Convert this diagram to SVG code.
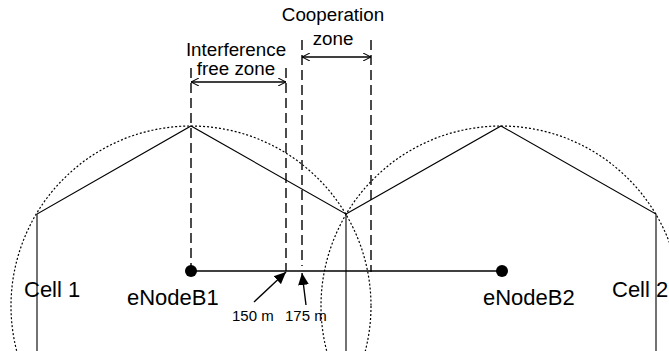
<svg xmlns="http://www.w3.org/2000/svg" width="669" height="351" viewBox="0 0 669 351">
  <style>
    .lbl { font-family: "Liberation Sans", Arial, sans-serif; fill: #000; }
    .big { font-size: 22px; }
    .mid { font-size: 18.8px; }
    .small { font-size: 15px; }
    .hex { fill: none; stroke: #000; stroke-width: 1.1; }
    .range { fill: none; stroke: #000; stroke-width: 1.2; stroke-dasharray: 2 2; }
    .dash { fill: none; stroke: #000; stroke-width: 1.4; stroke-dasharray: 10 5; }
    .link { fill: none; stroke: #000; stroke-width: 1.4; }
    .dim { fill: none; stroke: #000; stroke-width: 1.3; }
    .ptr { fill: none; stroke: #000; stroke-width: 1.4; }
  </style>
  <defs>
    <marker id="open" viewBox="0 0 10 10" refX="10" refY="5" markerWidth="8" markerHeight="8" markerUnits="userSpaceOnUse" orient="auto-start-reverse">
      <path d="M0,0 L10,5 L0,10" fill="none" stroke="#000" stroke-width="1.3"/>
    </marker>
    <marker id="solid" viewBox="0 0 10 10" refX="10" refY="5" markerWidth="12" markerHeight="12" markerUnits="userSpaceOnUse" orient="auto">
      <path d="M0,0.5 L10,5 L0,9.5 Z" fill="#000"/>
    </marker>
  </defs>

  <!-- coverage circles -->
  <g id="coverage">
    <circle class="range" cx="191" cy="306" r="180"/>
    <circle class="range" cx="501" cy="306" r="180"/>
  </g>

  <!-- cell 1 -->
  <g id="cell1">
    <polyline class="hex" points="37,351 37,214 191,126 346,214 346,351"/>
    <text class="lbl big" x="24" y="297">Cell 1</text>
  </g>

  <!-- cell 2 -->
  <g id="cell2">
    <polyline class="hex" points="346,214 501,126 656,214 656,351"/>
    <text class="lbl big" x="612" y="297">Cell 2</text>
  </g>

  <!-- zone boundaries and markers -->
  <g id="connectors">
    <line class="dash" x1="191" y1="68" x2="191" y2="266"/>
    <line class="dash" x1="286" y1="68" x2="286" y2="271"/>
    <line class="dash" x1="302" y1="40" x2="302" y2="266"/>
    <line class="dash" x1="371" y1="40" x2="371" y2="272"/>
    <line class="link" x1="191" y1="271" x2="502" y2="271"/>
    <line class="dim" x1="191" y1="82" x2="286" y2="82" marker-start="url(#open)" marker-end="url(#open)"/>
    <line class="dim" x1="302" y1="57" x2="371" y2="57" marker-start="url(#open)" marker-end="url(#open)"/>
    <line class="ptr" x1="254" y1="302" x2="286" y2="272" marker-end="url(#solid)"/>
    <line class="ptr" x1="306" y1="305" x2="302" y2="273" marker-end="url(#solid)"/>
  </g>

  <!-- base stations -->
  <g id="enodeb1">
    <circle cx="191" cy="271" r="6" fill="#000"/>
    <text class="lbl big" x="127" y="305">eNodeB1</text>
  </g>
  <g id="enodeb2">
    <circle cx="502" cy="271" r="6" fill="#000"/>
    <text class="lbl big" x="483" y="305">eNodeB2</text>
  </g>

  <!-- zone labels -->
  <g id="interference-zone">
    <text class="lbl mid" x="236" y="56" text-anchor="middle">Interference</text>
    <text class="lbl mid" x="236" y="75" text-anchor="middle">free zone</text>
  </g>
  <g id="cooperation-zone">
    <text class="lbl mid" x="333" y="21" text-anchor="middle">Cooperation</text>
    <text class="lbl mid" x="333" y="45" text-anchor="middle">zone</text>
  </g>

  <!-- distance labels -->
  <g id="distances">
    <text class="lbl small" x="232" y="321">150 m</text>
    <text class="lbl small" x="285" y="321">175 m</text>
  </g>
</svg>
